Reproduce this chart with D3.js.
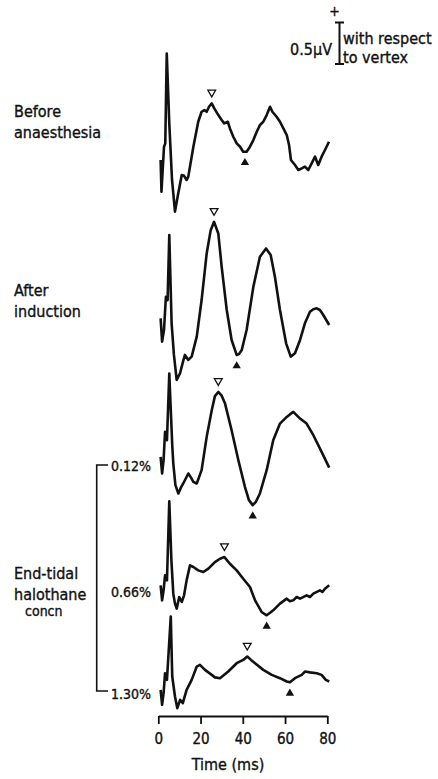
<!DOCTYPE html>
<html lang="en">
<head>
<meta charset="UTF-8">
<title>Evoked responses</title>
<style>
  body { margin: 0; background: #fff; }
  text { font-family: "DejaVu Sans Condensed", "DejaVu Sans", sans-serif; fill: #111; stroke: #111; stroke-width: 0.35px; }
</style>
</head>
<body>
<svg id="chart" width="438" height="779"></svg>
<script src="https://cdn.jsdelivr.net/npm/d3@7"></script>
<script>
/* global d3 */

// traces: [time ms, amplitude µV], positive = up (with respect to vertex)
var before = [[1.1,0.12],[1.5,-0.26],[2.7,0.28],[3.3,0.32],[4.0,1.40],[5.2,0.56],[6.5,-0.12],[7.9,-0.50],[9.3,-0.30],[11.1,-0.06],[12.2,-0.07],[13.4,-0.12],[14.2,-0.08],[16.6,0.28],[18.9,0.58],[20.5,0.70],[21.8,0.72],[22.9,0.70],[24.0,0.76],[25.3,0.80],[26.5,0.74],[28.4,0.66],[30.0,0.60],[31.2,0.56],[32.9,0.58],[33.9,0.50],[35.5,0.40],[37.1,0.32],[38.7,0.28],[40.2,0.22],[41.8,0.22],[43.4,0.28],[45.0,0.36],[46.6,0.46],[48.1,0.54],[49.7,0.58],[51.3,0.66],[52.9,0.76],[54.0,0.70],[56.0,0.64],[57.6,0.58],[59.2,0.50],[60.8,0.42],[61.9,0.30],[62.8,0.12],[64.7,0.06],[66.3,0.00],[67.9,0.02],[69.4,0.04],[71.0,0.00],[72.6,0.08],[74.2,0.16],[75.7,0.06],[77.3,0.16],[78.9,0.24],[80.8,0.34]];
var induction = [[1.1,0.08],[1.8,-0.20],[2.7,-0.06],[3.6,0.34],[4.4,0.30],[5.2,1.08],[6.3,0.02],[7.4,-0.36],[8.7,-0.66],[10.3,-0.58],[11.7,-0.44],[12.6,-0.36],[14.2,-0.42],[15.8,-0.38],[18.2,-0.14],[20.5,0.30],[22.9,0.86],[24.8,1.14],[26.4,1.24],[28.4,1.10],[30.0,0.70],[32.4,0.18],[34.7,-0.18],[37.1,-0.36],[38.2,-0.35],[39.5,-0.30],[41.8,-0.06],[45.0,0.46],[48.1,0.82],[51.0,0.92],[53.2,0.84],[55.2,0.58],[57.6,0.18],[60.5,-0.22],[62.7,-0.38],[64.7,-0.34],[67.1,-0.18],[69.4,0.02],[71.8,0.16],[73.4,0.19],[75.0,0.20],[76.5,0.18],[78.1,0.12],[80.9,0.00]];
var halo012 = [[1.1,0.11],[1.8,-0.09],[2.5,0.07],[3.2,0.41],[4.1,0.31],[5.2,1.11],[6.6,0.25],[7.1,0.03],[8.1,-0.23],[9.5,-0.33],[10.7,-0.26],[11.8,-0.21],[14.2,-0.09],[15.5,-0.14],[16.6,-0.19],[18.2,-0.21],[20.5,-0.05],[22.9,0.35],[25.3,0.67],[26.8,0.84],[28.4,0.89],[29.9,0.85],[31.6,0.75],[34.7,0.43],[37.9,0.07],[41.0,-0.25],[42.9,-0.41],[44.7,-0.47],[46.2,-0.43],[48.1,-0.33],[51.3,-0.05],[54.4,0.31],[57.6,0.51],[60.8,0.59],[62.3,0.62],[63.9,0.65],[67.1,0.57],[70.2,0.51],[73.4,0.37],[77.3,0.17],[80.9,-0.02]];
var halo066 = [[1.1,0.08],[1.8,-0.10],[2.5,0.02],[3.2,0.20],[4.1,0.14],[5.2,1.09],[6.2,0.38],[7.1,-0.02],[7.9,-0.14],[8.7,-0.20],[9.9,-0.06],[11.1,-0.12],[12.2,-0.04],[13.4,0.14],[15.0,0.32],[16.6,0.30],[18.9,0.26],[21.3,0.24],[23.7,0.28],[26.8,0.36],[29.2,0.40],[31.3,0.42],[33.9,0.34],[37.1,0.26],[40.2,0.16],[43.4,0.06],[45.8,-0.10],[48.9,-0.24],[51.3,-0.28],[52.9,-0.25],[54.4,-0.22],[57.6,-0.14],[60.8,-0.08],[62.3,-0.11],[63.9,-0.10],[65.5,-0.06],[67.1,-0.08],[70.2,-0.04],[71.8,-0.06],[73.4,-0.02],[76.5,0.02],[77.7,0.00],[78.9,0.04],[80.9,0.08]];
var halo130 = [[1.1,0.05],[1.8,-0.13],[2.5,0.01],[3.2,0.25],[4.1,0.17],[5.9,0.93],[6.6,0.21],[7.9,-0.03],[9.0,-0.17],[10.3,-0.07],[11.6,-0.11],[13.4,0.05],[15.8,0.17],[18.2,0.33],[19.7,0.35],[22.1,0.29],[25.3,0.23],[26.8,0.20],[29.2,0.19],[33.1,0.27],[37.1,0.37],[40.2,0.41],[42.1,0.45],[43.9,0.41],[45.8,0.37],[49.7,0.29],[53.7,0.23],[57.6,0.19],[60.8,0.15],[62.3,0.14],[64.7,0.19],[67.9,0.23],[69.4,0.27],[71.8,0.26],[75.0,0.25],[77.3,0.23],[79.3,0.17],[80.9,0.15]];

var traces = [before, induction, halo012, halo066, halo130];
var peakMs = [25.3, 26.4, 28.4, 31.3, 42.1];     // open triangles
var troughMs = [41.0, 37.1, 44.7, 51.3, 62.3];   // filled triangles
var concLabels = ["0.12%", "0.66%", "1.30%"];
var xTicks = [0, 20, 40, 60, 80];

// layout
var baseY = [170, 325, 466, 592, 694];
var svg = d3.select("#chart");
var x = d3.scaleLinear().domain([0, 80]).range([158.3, 327.3]);
var pxPerUV = 83.2;

function yFor(i) {
    return d3.scaleLinear().domain([0, 1]).range([baseY[i], baseY[i] - pxPerUV]);
}

var line = d3.line();

traces.forEach(function(tr, i) {
    var y = yFor(i);
    svg.append("path")
        .attr("d", line.x(d => x(d[0])).y(d => y(d[1]))(tr))
        .attr("fill", "none")
        .attr("stroke", "#111")
        .attr("stroke-width", 2.6)
        .attr("stroke-linejoin", "round");

    var bis = d3.bisector(d => d[0]).center;
    var pk = tr[bis(tr, peakMs[i])];
    var tg = tr[bis(tr, troughMs[i])];

    svg.append("path")
        .attr("d", d3.symbol(d3.symbolTriangle, 26)())
        .attr("transform", "translate(" + x(peakMs[i]) + "," + (y(pk[1]) - 11) + ") rotate(180)")
        .attr("fill", "#fff")
        .attr("stroke", "#111")
        .attr("stroke-width", 1.3);

    svg.append("path")
        .attr("d", d3.symbol(d3.symbolTriangle, 30)())
        .attr("transform", "translate(" + x(troughMs[i]) + "," + (y(tg[1]) + 11) + ")")
        .attr("fill", "#111");
});

// left labels
function label(lines, xx, yy, size, dy) {
    lines.forEach(function(t, k) {
        svg.append("text").attr("x", xx).attr("y", yy + k * dy)
            .style("font-size", size + "px").text(t);
    });
}
label(["Before", "anaesthesia"], 14, 117, 16, 21);
label(["After", "induction"], 14, 296, 16, 21);
label(["End-tidal", "halothane"], 14, 579, 16, 21);
label(["concn"], 25, 616, 14, 0);

// concentration bracket
var bx = 96.7;
var cy = [baseY[2], baseY[3], baseY[4]];
svg.append("path")
    .attr("d", "M108," + (cy[0] - 1) + "H" + bx + "V" + (cy[2] - 3) + "H108")
    .attr("fill", "none").attr("stroke", "#111").attr("stroke-width", 1.6);
concLabels.forEach(function(t, k) {
    svg.append("text").attr("x", 111).attr("y", cy[k] + 5)
        .style("font-size", "14px").text(t);
});

// scale bar (0.5 µV)
var sb = d3.scaleLinear().domain([0, 0.5]).range([64, 64 - 0.5 * pxPerUV]);
svg.append("path")
    .attr("d", "M335," + sb(0.5) + "H344M339.5," + sb(0.5) + "V" + sb(0) + "M335," + sb(0) + "H344")
    .attr("fill", "none").attr("stroke", "#111").attr("stroke-width", 2);
svg.append("text").attr("x", 334.5).attr("y", 16).attr("text-anchor", "middle")
    .style("font-size", "14px").text("+");
svg.append("text").attr("x", 332).attr("y", 55).attr("text-anchor", "end")
    .style("font-size", "16px").text("0.5µV");
svg.append("text").attr("x", 343).attr("y", 44).style("font-size", "16px").text("with respect");
svg.append("text").attr("x", 343).attr("y", 63).style("font-size", "16px").text("to vertex");

// time axis
var ax = svg.append("g")
    .attr("transform", "translate(0,716)")
    .call(d3.axisBottom(x).tickValues(xTicks).tickSize(8).tickSizeOuter(0));
ax.select(".domain").attr("stroke", "#111").attr("stroke-width", 1.8);
ax.selectAll(".tick line").attr("stroke", "#111").attr("stroke-width", 1.8);
ax.selectAll(".tick text").attr("y", 17)
    .style("font-family", "'DejaVu Sans Condensed', sans-serif")
    .style("font-size", "15px").attr("fill", "#111");
svg.append("text").attr("x", 228).attr("y", 770).attr("text-anchor", "middle")
    .style("font-size", "16px").text("Time (ms)");
</script>
</body>
</html>
